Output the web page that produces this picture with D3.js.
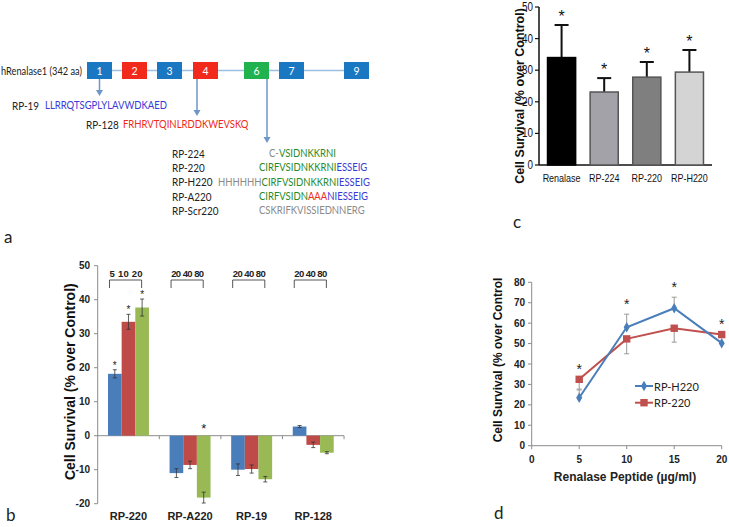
<!DOCTYPE html>
<html><head><meta charset="utf-8">
<script src="https://cdn.jsdelivr.net/npm/d3@7"></script>
<style>
body{margin:0;background:#fff}
svg{display:block}
text{font-family:"Liberation Sans",Arial,sans-serif}
</style>
</head><body>
<svg id="fig" width="729" height="527"></svg>
<script>
// ---------- Panel a data ----------
const exonLabels = ["1","2","3","4","6","7","9"];
const exonKinds  = ["blue","red","blue","red","green","blue","blue"];
const peptideNames = ["RP-19","RP-128","RP-224","RP-220","RP-H220","RP-A220","RP-Scr220"];
const peptideSeqs = [
  [["LLRRQTSGPLYLAVWDKAED","blue"]],
  [["FRHRVTQINLRDDKWEVSKQ","red"]],
  [["C-","gray"],["VSIDNKKRNI","green"]],
  [["CIRFVSIDNKKRNI","green"],["ESSEIG","blue"]],
  [["HHHHHH","gray"],["CIRFVSIDNKKRNI","green"],["ESSEIG","blue"]],
  [["CIRFVSIDN","green"],["AAA","red"],["NIESSEIG","blue"]],
  [["CSKRIFKVISSIEDNNERG","gray"]]
];
// ---------- Panel b data ----------
const bCategories = ["RP-220","RP-A220","RP-19","RP-128"];
const bDoses = [["5","10","20"],["20","40","80"],["20","40","80"],["20","40","80"]];
const bValues = [[18.2,33.5,37.7],[-11.0,-8.6,-18.2],[-10.0,-9.8,-12.8],[2.7,-2.7,-5.0]];
const bErrors = [[1.2,2.2,2.5],[1.3,1.1,1.6],[1.7,1.2,0.8],[0.3,0.8,0.3]];
const bStars  = [[1,1,1],[0,0,1],[0,0,0],[0,0,0]];
const bTicks = [-20,-10,0,10,20,30,40,50];
// ---------- Panel c data ----------
const cCategories = ["Renalase","RP-224","RP-220","RP-H220"];
const cValues = [34.0,23.1,27.8,29.4];
const cErrors = [10.3,4.4,4.8,7.0];
const cTicks = [0,10,20,30,40,50];
// ---------- Panel d data ----------
const dDoses = [5,10,15,20];
const dH220 = [23.5,58.0,67.3,50.2];
const dH220Err = [3.8,6.4,5.4,0];
const d220 = [32.5,52.3,57.5,54.4];
const d220Err = [4.8,7.3,6.8,0];
const dStarsAt = [5,10,15,20];
const dXTicks = [0,5,10,15,20];
const dYTicks = [0,10,20,30,40,50,60,70,80];

const svg = d3.select("#fig");
const colA = {blue:"#1a78c2", red:"#f22a1c", green:"#1fb24f"};
const seqCol = {blue:"#3a3ad6", red:"#ee2a1a", green:"#2a8a2a", gray:"#8a8a8a"};
function narrow(sel, f){
  sel.each(function(){ const l=this.getComputedTextLength(); d3.select(this).attr("textLength",l*f).attr("lengthAdjust","spacingAndGlyphs"); });
  return sel;
}

// ================= Panel a =================
const aFont = "Lato, 'Open Sans', sans-serif";
const exonLeft = [87,122,157,193,244,279,344];
const exW = 25, exTop = 62, exH = 17, exMid = exTop + exH/2;
const ga = svg.append("g");
ga.append("line").attr("x1",exonLeft[0]+exW).attr("x2",exonLeft[6]).attr("y1",exMid).attr("y2",exMid)
  .attr("stroke","#9cc0e4").attr("stroke-width",1.5);
ga.append("text").attr("x",1).attr("y",exMid).attr("dominant-baseline","central")
  .attr("textLength",81).attr("lengthAdjust","spacingAndGlyphs")
  .style("font-family",aFont).style("font-size","11px").attr("fill","#222").text("hRenalase1 (342 aa)");
exonLabels.forEach((l,i)=>{
  ga.append("rect").attr("x",exonLeft[i]).attr("y",exTop).attr("width",exW).attr("height",exH).attr("fill",colA[exonKinds[i]]);
  ga.append("text").attr("x",exonLeft[i]+exW/2).attr("y",exMid).attr("dominant-baseline","central").attr("text-anchor","middle")
    .style("font-family",aFont).style("font-size","10.5px").attr("fill","#fff").text(l);
});
const arrowCol = "#6e96c8";
[[99.5,96],[197,116],[267,143]].forEach(([x,y2])=>{
  ga.append("line").attr("x1",x).attr("x2",x).attr("y1",exTop+exH).attr("y2",y2-5).attr("stroke",arrowCol).attr("stroke-width",1.5);
  ga.append("path").attr("d",`M${x-3.5},${y2-6}L${x+3.5},${y2-6}L${x},${y2}Z`).attr("fill",arrowCol);
});
const pepNameX = [12,86,172,172,172,172,172];
const pepSeqX  = [45,123,269,259,218,259,259];
const pepY     = [105,124,153,167,181.5,196,210];
// horizontal scale mimicking the narrow original face: RP-19 sequence spans ~122 px
const probe = ga.append("text").style("font-family",aFont).style("font-size","11.5px").text(peptideSeqs[0][0][0]);
const seqFactor = 122 / probe.node().getComputedTextLength();
probe.remove();
peptideNames.forEach((n,i)=>{
  ga.append("text").attr("x",pepNameX[i]).attr("y",pepY[i]).attr("dominant-baseline","central")
    .style("font-family",aFont).style("font-size","11px").attr("fill","#222").text(n)
    .call(narrow,0.9);
  let cursor = pepSeqX[i];
  peptideSeqs[i].forEach(([s,c])=>{
    const g = ga.append("g").attr("transform",`translate(${cursor},${pepY[i]}) scale(${seqFactor},1)`);
    const t = g.append("text").attr("x",0).attr("y",0).attr("dominant-baseline","central")
      .style("font-family",aFont).style("font-size","11.5px").attr("fill",seqCol[c]).text(s);
    cursor += t.node().getComputedTextLength()*seqFactor;
  });
});
svg.append("text").attr("x",4).attr("y",243).style("font-family",aFont).style("font-size","17px").attr("fill","#222").text("a");
svg.append("text").attr("x",6).attr("y",521).style("font-family",aFont).style("font-size","17px").attr("fill","#222").text("b");
svg.append("text").attr("x",513).attr("y",228).style("font-family",aFont).style("font-size","17px").attr("fill","#222").text("c");
svg.append("text").attr("x",494).attr("y",519).style("font-family",aFont).style("font-size","17px").attr("fill","#222").text("d");

// ================= Panel b =================
const gb = svg.append("g");
const yB = d3.scaleLinear().domain([-20,50]).range([503.7,265.7]);
const xB = d3.scaleBand().domain(bCategories).range([97.7,344]).paddingInner(0.335).paddingOuter(0.167);
const xBs = d3.scaleBand().domain([0,1,2]).range([0,xB.bandwidth()]);
const bColors = ["#4a7ebb","#be4b48","#98b954"];
const axCol = "#8c8c8c";
gb.append("line").attr("x1",97.7).attr("x2",97.7).attr("y1",yB(-20)).attr("y2",yB(50)).attr("stroke",axCol);
bTicks.forEach(t=>{
  gb.append("line").attr("x1",94).attr("x2",97.7).attr("y1",yB(t)).attr("y2",yB(t)).attr("stroke",axCol);
  gb.append("text").attr("x",90).attr("y",yB(t)).attr("dominant-baseline","central").attr("text-anchor","end")
    .style("font-size","10px").style("font-weight","bold").attr("fill","#222").text(t);
});
gb.append("line").attr("x1",97.7).attr("x2",344).attr("y1",yB(0)).attr("y2",yB(0)).attr("stroke",axCol);
xB.domain().forEach((c,i)=>{
  const x0 = 97.7 + xB.step()*(i+1);
  gb.append("line").attr("x1",x0).attr("x2",x0).attr("y1",yB(0)).attr("y2",yB(0)+3.5).attr("stroke",axCol);
});
bCategories.forEach((c,i)=>{
  const gx = xB(c);
  bValues[i].forEach((v,j)=>{
    const x = gx + xBs(j), w = xBs.bandwidth();
    gb.append("rect").attr("x",x).attr("width",w).attr("y",yB(Math.max(0,v))).attr("height",Math.abs(yB(v)-yB(0)))
      .attr("fill",bColors[j]);
    const cx = x + w/2, e = bErrors[i][j];
    gb.append("line").attr("x1",cx).attr("x2",cx).attr("y1",yB(v-e)).attr("y2",yB(v+e)).attr("stroke","#333").attr("stroke-width",0.8);
    [v-e,v+e].forEach(ev=>gb.append("line").attr("x1",cx-2).attr("x2",cx+2).attr("y1",yB(ev)).attr("y2",yB(ev)).attr("stroke","#333").attr("stroke-width",0.8));
    if(bStars[i][j]){
      const top = v>0 ? yB(v+e) : yB(0);
      gb.append("text").attr("x",cx).attr("y",top-(v>0?1:3)).attr("text-anchor","middle")
        .style("font-size",v>0?"10px":"13px").attr("fill","#222").text("*");
    }
  });
  const bx1 = gx + 1.5, bx2 = gx + xBs(2) + xBs.bandwidth()/2 - 0.5;
  gb.append("path").attr("d",`M${bx1},288V280H${bx2}V288`).attr("fill","none").attr("stroke","#444").attr("stroke-width",0.9);
  gb.append("text").attr("x",(bx1+bx2)/2 + 0.5).attr("y",273).attr("dominant-baseline","central").attr("text-anchor","middle")
    .style("font-size","9.5px").style("font-weight","bold").attr("fill","#222")
    .attr("textLength",33).attr("lengthAdjust","spacing")
    .text(bDoses[i].join("  "));
  gb.append("text").attr("x",gx+xB.bandwidth()/2).attr("y",516).attr("dominant-baseline","central").attr("text-anchor","middle")
    .style("font-size","11px").style("font-weight","bold").attr("fill","#222").text(c);
});
gb.append("text").attr("transform",`translate(70,${(yB(50)+yB(-20))/2-3}) rotate(-90)`).attr("text-anchor","middle")
  .attr("dominant-baseline","central").style("font-size","14px").style("font-weight","bold").attr("fill","#111")
  .text("Cell Survival (% over Control)");

// ================= Panel c =================
const gc = svg.append("g");
const yC = d3.scaleLinear().domain([0,50]).range([165,7]);
const xC = d3.scaleBand().domain(cCategories).range([539,712]).paddingInner(0.34).paddingOuter(0.2);
const cColors = ["#000000","#a2a2a8","#7f7f7f","#d4d4d4"];
gc.append("line").attr("x1",539).attr("x2",539).attr("y1",yC(0)).attr("y2",yC(50)).attr("stroke","#111").attr("stroke-width",1.5);
gc.append("line").attr("x1",539).attr("x2",712).attr("y1",yC(0)).attr("y2",yC(0)).attr("stroke","#111").attr("stroke-width",1.5);
cTicks.forEach(t=>{
  gc.append("line").attr("x1",535).attr("x2",539).attr("y1",yC(t)).attr("y2",yC(t)).attr("stroke","#111").attr("stroke-width",1.2);
  gc.append("text").attr("x",533).attr("y",yC(t)).attr("dominant-baseline","central").attr("text-anchor","end")
    .style("font-size","12px").attr("fill","#111").text(t).call(narrow,0.82);
});
cCategories.forEach((c,i)=>{
  const x = xC(c), w = xC.bandwidth(), cx = x+w/2, v = cValues[i], e = cErrors[i];
  gc.append("line").attr("x1",cx).attr("x2",cx).attr("y1",yC(v)).attr("y2",yC(v+e)).attr("stroke","#111").attr("stroke-width",2);
  gc.append("line").attr("x1",cx-7).attr("x2",cx+7).attr("y1",yC(v+e)).attr("y2",yC(v+e)).attr("stroke","#111").attr("stroke-width",2);
  gc.append("rect").attr("x",x).attr("width",w).attr("y",yC(v)).attr("height",yC(0)-yC(v))
    .attr("fill",cColors[i]).attr("stroke",i===0?"#000":"#555").attr("stroke-width",1.5);
  gc.append("text").attr("x",cx).attr("y",yC(v+e)-3).attr("text-anchor","middle")
    .style("font-size","16px").style("fill","#111").text("*");
  gc.append("text").attr("x",cx).attr("y",178).attr("dominant-baseline","central").attr("text-anchor","middle")
    .style("font-size","11.5px").attr("fill","#111").text(c).call(narrow,0.78);
});
gc.append("text").attr("transform",`translate(520,96) rotate(-90)`).attr("text-anchor","middle")
  .attr("dominant-baseline","central").style("font-size","12.5px").style("font-weight","bold").attr("fill","#111")
  .text("Cell Survival (% over Control)");

// ================= Panel d =================
const gd = svg.append("g");
const xD = d3.scaleLinear().domain([0,20]).range([531.7,721.7]);
const yD = d3.scaleLinear().domain([0,80]).range([445.7,282.3]);
gd.append("line").attr("x1",531.7).attr("x2",531.7).attr("y1",yD(0)).attr("y2",yD(80)).attr("stroke",axCol);
gd.append("line").attr("x1",531.7).attr("x2",721.7).attr("y1",yD(0)).attr("y2",yD(0)).attr("stroke",axCol);
dYTicks.forEach(t=>{
  gd.append("line").attr("x1",528).attr("x2",531.7).attr("y1",yD(t)).attr("y2",yD(t)).attr("stroke",axCol);
  gd.append("text").attr("x",525).attr("y",yD(t)).attr("dominant-baseline","central").attr("text-anchor","end")
    .style("font-size","10px").style("font-weight","bold").attr("fill","#222").text(t);
});
dXTicks.forEach(t=>{
  gd.append("line").attr("x1",xD(t)).attr("x2",xD(t)).attr("y1",yD(0)).attr("y2",yD(0)+3.5).attr("stroke",axCol);
  gd.append("text").attr("x",xD(t)).attr("y",459).attr("dominant-baseline","central").attr("text-anchor","middle")
    .style("font-size","10px").style("font-weight","bold").attr("fill","#222").text(t);
});
gd.append("text").attr("x",625).attr("y",477).attr("dominant-baseline","central").attr("text-anchor","middle")
  .style("font-size","12px").style("font-weight","bold").attr("fill","#222").text("Renalase Peptide (µg/ml)");
gd.append("text").attr("transform",`translate(498,${yD(40)-4}) rotate(-90)`).attr("text-anchor","middle")
  .attr("dominant-baseline","central").style("font-size","12px").style("font-weight","bold").attr("fill","#111")
  .text("Cell Survival (% over Control");
const blueD = "#4a7ebb", redD = "#c0504d", errCol = "#999";
dDoses.forEach((x,i)=>{
  if(dH220Err[i]>0){
    gd.append("line").attr("x1",xD(x)).attr("x2",xD(x)).attr("y1",yD(dH220[i])).attr("y2",yD(dH220[i]+dH220Err[i])).attr("stroke",errCol);
    gd.append("line").attr("x1",xD(x)-2.5).attr("x2",xD(x)+2.5).attr("y1",yD(dH220[i]+dH220Err[i])).attr("y2",yD(dH220[i]+dH220Err[i])).attr("stroke",errCol);
  }
  if(d220Err[i]>0){
    gd.append("line").attr("x1",xD(x)).attr("x2",xD(x)).attr("y1",yD(d220[i])).attr("y2",yD(d220[i]-d220Err[i])).attr("stroke",errCol);
    gd.append("line").attr("x1",xD(x)-2.5).attr("x2",xD(x)+2.5).attr("y1",yD(d220[i]-d220Err[i])).attr("y2",yD(d220[i]-d220Err[i])).attr("stroke",errCol);
  }
});
const lineD = d3.line().x(d=>xD(d[0])).y(d=>yD(d[1]));
gd.append("path").attr("d",lineD(dDoses.map((x,i)=>[x,d220[i]]))).attr("fill","none").attr("stroke",redD).attr("stroke-width",2);
gd.append("path").attr("d",lineD(dDoses.map((x,i)=>[x,dH220[i]]))).attr("fill","none").attr("stroke",blueD).attr("stroke-width",2);
const sq = d3.symbol().type(d3.symbolSquare).size(55);
const dia = d3.symbol().type(d3.symbolDiamond).size(32);
dDoses.forEach((x,i)=>{
  gd.append("path").attr("d",sq()).attr("transform",`translate(${xD(x)},${yD(d220[i])})`).attr("fill",redD);
  gd.append("path").attr("d",dia()).attr("transform",`translate(${xD(x)},${yD(dH220[i])})`).attr("fill",blueD);
});
dStarsAt.forEach((x,i)=>{
  const top = Math.max(dH220[i]+dH220Err[i], d220[i]);
  gd.append("text").attr("x",xD(x)).attr("y",yD(top+5.5)+6).attr("text-anchor","middle")
    .style("font-size","14px").attr("fill","#222").text("*");
});
const legItems = [["RP-H220",blueD,dia],["RP-220",redD,sq]];
legItems.forEach(([name,col,sym],i)=>{
  const ly = 386 + i*16.7;
  gd.append("line").attr("x1",635).attr("x2",653).attr("y1",ly).attr("y2",ly).attr("stroke",col).attr("stroke-width",2);
  gd.append("path").attr("d",sym()).attr("transform",`translate(644,${ly})`).attr("fill",col);
  gd.append("text").attr("x",654).attr("y",ly).attr("dominant-baseline","central")
    .style("font-family",aFont).style("font-size","11px").attr("fill","#222").text(name);
});
</script>
</body></html>
